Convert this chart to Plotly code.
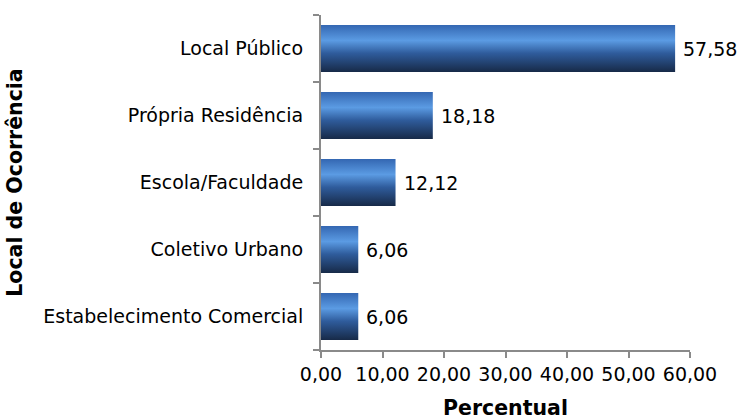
import plotly.graph_objects as go

categories = ["Local Público", "Própria Residência", "Escola/Faculdade",
              "Coletivo Urbano", "Estabelecimento Comercial"]
values = [57.58, 18.18, 12.12, 6.06, 6.06]
x_ticks = [0, 10, 20, 30, 40, 50, 60]

half = 0.35
grad = [[0.0, "#3467b2"], [0.33, "#5b9be3"], [0.6, "#2f5c9c"], [1.0, "#172a48"]]

fig = go.Figure()
for i, (c, v) in enumerate(zip(categories, values)):
    fig.add_trace(go.Scatter(
        x=[0, v, v, 0, 0],
        y=[i - half, i - half, i + half, i + half, i - half],
        mode="none", fill="toself",
        fillgradient=dict(type="vertical", colorscale=grad,
                          start=i - half, stop=i + half),
        hoverinfo="skip", showlegend=False,
    ))
    fig.add_annotation(x=v, y=i, text=f"{v:.2f}".replace(".", ","),
                       showarrow=False, xanchor="left", xshift=6,
                       font=dict(size=19, color="#000"))

axis_col = "#8a8a8a"
fig.update_layout(
    width=742, height=420,
    margin=dict(l=321, r=52, t=15, b=70),
    paper_bgcolor="white", plot_bgcolor="white",
    font=dict(family="DejaVu Sans", size=19, color="#000"),
    separators=",.",
    xaxis=dict(range=[0, 60], tickvals=x_ticks, tickformat=".2f",
               showgrid=False, zeroline=False, automargin=False,
               showline=True, linecolor=axis_col, linewidth=2,
               ticks="outside", ticklen=6, tickwidth=2, tickcolor=axis_col,
               ticklabelstandoff=0,
               title=dict(text="<b>Percentual</b>", font=dict(size=20.5), standoff=19)),
    yaxis=dict(range=[4.5, -0.5], tickvals=list(range(len(categories))),
               ticktext=categories, ticks="", showgrid=False, zeroline=False,
               automargin=False,
               showline=True, linecolor=axis_col, linewidth=2,
               ticklabelstandoff=12,
               minor=dict(tickvals=[k - 0.5 for k in range(len(categories) + 1)],
                          ticks="outside", ticklen=6, tickwidth=2,
                          tickcolor=axis_col, showgrid=False),
               title=dict(text="<b>Local de Ocorrência</b>", font=dict(size=20.5), standoff=15)),
)

fig.write_html("out.html", config={"displayModeBar": False},
               post_script="document.body.style.margin='0';")
